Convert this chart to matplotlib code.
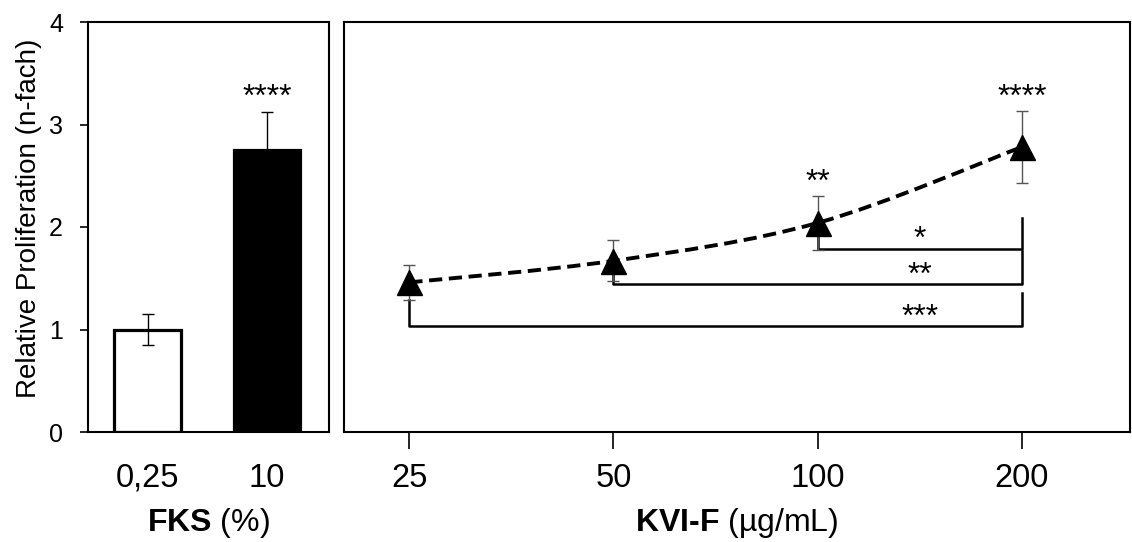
import matplotlib.pyplot as plt
import numpy as np
from matplotlib.path import Path
from matplotlib.patches import PathPatch

plt.rcParams['font.family'] = ['Liberation Sans', 'DejaVu Sans']
plt.rcParams['mathtext.fontset'] = 'custom'
plt.rcParams['mathtext.rm'] = 'Liberation Sans'
plt.rcParams['mathtext.bf'] = 'Liberation Sans:bold'

# data
fks_labels = ['0,25', '10']
fks_vals = [1.00, 2.75]
fks_err = [0.155, 0.37]
fks_sig = ['', '****']

kvi_labels = ['25', '50', '100', '200']
kvi_vals = [1.46, 1.67, 2.04, 2.78]
kvi_err = [0.17, 0.20, 0.26, 0.35]
kvi_sig = ['', '', '**', '****']

# brackets: from index, to index, bar level, top of right arm, label
br_from = [2, 1, 0]
br_to = [3, 3, 3]
br_y = [1.79, 1.44, 1.03]
br_top = [2.09, 1.77, 1.36]
br_text = ['*', '**', '***']

fig = plt.figure(figsize=(11.32, 5.42), dpi=100)
ax1 = fig.add_axes([88/1132, 1-432/542, (329-88)/1132, (432-22)/542])
ax2 = fig.add_axes([344/1132, 1-432/542, (1130-344)/1132, (432-22)/542])

# left panel
x1 = np.arange(len(fks_vals))
ax1.bar(x1, fks_vals, width=0.56, color=['white', 'black'], edgecolor='black', linewidth=2.3, zorder=2)
ax1.errorbar(x1, fks_vals, yerr=fks_err, fmt='none', ecolor='black', elinewidth=1, capsize=4, capthick=1, zorder=3)
for i in range(len(fks_vals)):
    if fks_sig[i]:
        ax1.text(x1[i], fks_vals[i] + fks_err[i] + 0.14, fks_sig[i], ha='center', va='center', fontsize=23)
ax1.set_xlim(-0.5, 1.52)
ax1.set_ylim(0, 4)
ax1.set_yticks([0, 1, 2, 3, 4])
ax1.set_xticks(x1)
ax1.set_xticklabels(fks_labels, fontsize=23.5)
ax1.tick_params(axis='x', length=0, pad=22)
ax1.tick_params(axis='y', direction='out', length=6, width=1.2, labelsize=18, pad=12)
ax1.set_ylabel('Relative Proliferation (n-fach)', fontsize=20)
ax1.yaxis.set_label_coords(-0.19, 0.522)
ax1.set_xlabel(r'$\mathbf{FKS}$ (%)', fontsize=23, labelpad=9)
for s in ax1.spines.values():
    s.set_linewidth(1.5)

# right panel
x2 = np.arange(len(kvi_vals))
ax2.errorbar(x2, kvi_vals, yerr=kvi_err, fmt='none', ecolor='#555555', elinewidth=1, capsize=4, capthick=1, zorder=2)

# smooth dashed curve through the points (Catmull-Rom as cubic Bezier)
pts = np.column_stack([x2, kvi_vals]).astype(float)
verts = [pts[0]]
codes = [Path.MOVETO]
n = len(pts)
for i in range(n - 1):
    p0 = pts[max(i - 1, 0)]
    p1 = pts[i]
    p2 = pts[i + 1]
    p3 = pts[min(i + 2, n - 1)]
    verts += [p1 + (p2 - p0) / 6, p2 - (p3 - p1) / 6, p2]
    codes += [Path.CURVE4, Path.CURVE4, Path.CURVE4]
curve = PathPatch(Path(verts, codes), facecolor='none', edgecolor='black', linewidth=2.8,
                  linestyle=(0, (3.4, 1.7)), zorder=3)
ax2.add_patch(curve)
ax2.plot(x2, kvi_vals, linestyle='none', marker='^', markersize=18, color='black', zorder=4)

for i in range(len(kvi_vals)):
    if kvi_sig[i]:
        ax2.text(x2[i], kvi_vals[i] + kvi_err[i] + 0.13, kvi_sig[i], ha='center', va='center', fontsize=23)

for a, b, y, yt, t in zip(br_from, br_to, br_y, br_top, br_text):
    ax2.plot([a, a, b, b], [y + 0.26, y, y, yt], color='black', linewidth=1.8, zorder=1,
             solid_joinstyle='round')
    ax2.text(2.5, y + 0.08, t, ha='center', va='center', fontsize=23)

ax2.set_xlim(-0.32, 3.53)
ax2.set_ylim(0, 4)
ax2.set_yticks([])
ax2.set_xticks(x2)
ax2.set_xticklabels(kvi_labels, fontsize=23.5)
ax2.tick_params(axis='x', direction='out', length=12, width=1.2, pad=10)
ax2.set_xlabel('$\\mathbf{KVI\u2010F}$ (µg/mL)', fontsize=23, labelpad=9)
for s in ax2.spines.values():
    s.set_linewidth(1.5)

fig.savefig('out.png', dpi=100)
